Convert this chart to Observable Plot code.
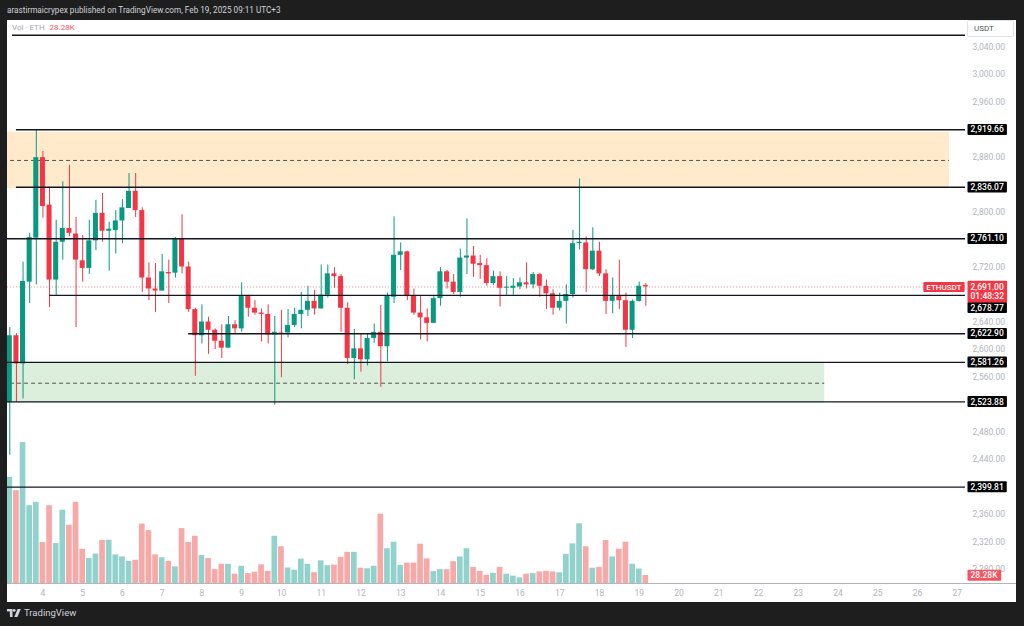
<!DOCTYPE html>
<html><head><meta charset="utf-8">
<script src="https://cdn.jsdelivr.net/npm/d3@7"></script>
<script src="https://cdn.jsdelivr.net/npm/@observablehq/plot@0.6"></script>
<style>
html,body{margin:0;padding:0;background:#1e1e1e;width:1024px;height:626px;overflow:hidden;font-family:Roboto,"Liberation Sans",sans-serif;}
#header{position:absolute;left:7px;top:0;height:20px;line-height:21px;font-size:8.2px;color:#d1d4dc;white-space:nowrap;}
#chart{position:absolute;left:7px;top:20px;width:1009px;height:582px;background:#fff;overflow:hidden;}
#chart svg{position:absolute;left:0;top:0;}
#legend{position:absolute;left:5px;top:3px;font-size:8px;color:#a3a6af;z-index:5;}
#legend .v{color:#f7525f;margin-left:5px;}
#usdt{position:absolute;left:960px;top:0;width:47px;height:17px;border:1px solid #e0e3eb;border-radius:2px;background:#fff;font-size:8px;color:#50535e;line-height:16px;padding-left:6px;box-sizing:border-box;z-index:5;}
#baseline{position:absolute;left:0;top:563px;width:1009px;height:1px;background:#b2b5be;z-index:4;}
#footer{position:absolute;left:7px;top:607px;color:#d1d4dc;font-size:9.5px;display:flex;align-items:center;gap:3px;}
</style></head>
<body>
<div id="header">arastirmaicrypex published on TradingView.com, Feb 19, 2025 09:11 UTC+3</div>
<div id="chart">
  <div id="legend">Vol · ETH<span class="v">28.28K</span></div>
  <div id="usdt">USDT</div>
  <div id="baseline"></div>
</div>
<div id="footer"><svg width="14" height="8" viewBox="0 0 14 8"><path d="M0 0h5.5v8h-2.6v-5.4h-2.9z" fill="#d1d4dc"/><circle cx="7.2" cy="1.4" r="1.4" fill="#d1d4dc"/><path d="M10.6 0h3.2l-3.4 8h-3.1z" fill="#d1d4dc"/></svg><span>TradingView</span></div>
<script>
// ---- data (ETHUSDT, 4h candles, first candle 3 Feb 04:00 UTC) ----
const open  = [2523,2620,2579,2698,2762,2879,2810,2701,2756,2776,2768,2729,2718,2758,2798,2772,2773,2787,2805,2830,2802,2704,2688,2685,2712,2711,2761,2720,2658,2620,2640,2628,2612,2602,2636,2630,2677,2660,2653,2651,2621,2625,2624,2635,2651,2657,2670,2659,2679,2710,2706,2660,2587,2601,2585,2616,2625,2604,2676,2737,2742,2678,2653,2646,2638,2674,2713,2698,2683,2733,2736,2725,2722,2696,2706,2689.2,2689,2691,2697,2694,2709,2692,2681,2660,2670,2680,2754,2755,2716,2743,2710,2670,2677,2671,2628,2670,2693];
const high  = [2632,2623,2727,2769,2920,2888,2836,2788,2844,2868,2792,2766,2788,2817,2827,2785,2802,2818,2856,2856,2806,2726,2725,2738,2730,2763,2796,2727,2660,2665,2647,2630,2636,2648,2642,2697,2679,2671,2659,2665,2648,2657,2658,2660,2683,2692,2686,2723,2723,2719,2709,2668,2629,2623,2622,2637,2664,2682,2793,2755,2743,2688,2677,2659,2677,2719,2715,2709,2746,2790,2750,2737,2732,2714,2713,2706,2703,2704,2726,2712,2711,2701,2687,2682,2694,2773,2848,2764,2777,2756,2716,2704,2730,2682,2672,2698,2696];
const low   = [2446,2523,2528,2667,2694,2791,2661,2677,2730,2764,2632,2698,2709,2744,2756,2714,2739,2754,2805,2792,2683,2671,2654,2685,2667,2704,2710,2654,2561,2608,2593,2600,2587,2602,2622,2625,2647,2650,2611,2608,2519,2559,2617,2632,2630,2648,2650,2659,2675,2689,2625,2578,2556,2567,2576,2609,2545,2582,2667,2715,2671,2650,2614,2611,2638,2663,2688,2680,2676,2709,2705,2702,2692,2693,2662,2679,2679,2687,2688,2688,2676,2658,2650,2656,2637,2675,2745,2683,2715,2706,2651,2652,2658,2603,2616,2669,2663];
const close = [2620,2579,2699,2763,2879,2808,2701,2756,2776,2769,2730,2718,2758,2798,2772,2775,2787,2806,2830,2802,2704,2688,2685,2713,2710,2761,2720,2658,2620,2640,2628,2612,2602,2636,2630,2677,2660,2653,2651,2621,2625,2624,2635,2651,2657,2670,2659,2679,2710,2706,2660,2587,2601,2585,2616,2625,2604,2677,2737,2742,2678,2653,2646,2638,2674,2713,2698,2683,2733,2736,2724,2722,2696,2706,2689,2690.6,2692,2697,2694,2709,2692,2681,2660,2670,2680,2754,2756,2716,2743,2710,2670,2677,2671,2628,2670,2692,2691];
const volumeK = [375,328,498,275,287,145,275,141,259,206,287,121,88,104,152,153,101,94,78,82,210,187,101,91,78,59,194,145,167,99,88,49,68,68,33,61,35,40,66,43,167,130,55,47,86,68,38,80,63,65,92,110,110,54,52,61,245,123,146,64,72,72,139,87,42,49,49,77,94,123,57,43,29,36,57,33,26,20,33,35,41,43,41,38,103,140,211,130,54,57,152,94,121,146,68,51,28.28];

// horizontal levels: price, first candle index the ray starts at (-2 = whole chart), label shown
const levelPrice = [3057, 2919.66, 2836.07, 2761.10, 2678.77, 2622.90, 2581.26, 2523.88, 2399.81];
const levelStart = [0.4, 1, 1, -2, 6, 27, -2, -2, -2];
const levelLabel = [false, true, true, true, true, true, true, true, true];
// zones
const zoneLow  = [2834, 2522];
const zoneHigh = [2916, 2580];
const zoneEnd  = [141.84, 123];
const zoneFill = ["#ffeacc", "#dbefdc"];
// axes (price ticks that the level labels hide are left out, as in the original)
const dayLabels = [4,5,6,7,8,9,10,11,12,13,14,15,16,17,18,19,20,21,22,23,24,25,26,27];
const priceTicks = [3040, 3000, 2960, 2880, 2800, 2720, 2640, 2600, 2560, 2480, 2440, 2360, 2320, 2280];
const lastPrice = 2691.00;
const countdown = "01:48:32";
const symbol = "ETHUSDT";

// ---- build ----
const HR = 4 * 3600e3;
const t0 = Date.UTC(2025, 1, 3, 4);
const tAt = i => new Date(t0 + i * HR);
const candles = open.map((o, i) => ({t: tAt(i), i, o, h: high[i], l: low[i], c: close[i], v: volumeK[i], up: close[i] >= o}));
const levels = levelPrice.map((p, k) => ({p, start: tAt(levelStart[k]), label: levelLabel[k]}));
const zones = zoneLow.map((lo, k) => ({lo, hi: zoneHigh[k], mid: (lo + zoneHigh[k]) / 2, from: tAt(-2), to: tAt(zoneEnd[k]), fill: zoneFill[k]}));
const dayTicks = dayLabels.map(d => new Date(Date.UTC(2025, 1, d)));
const fmt = d3.format(",.2f");
const UP = "#089981", DN = "#f23645";

const W = 1009, HT = 582;
const xDomain = [tAt(-0.347), tAt(144.25)];
const xEnd = xDomain[1];
const yDomain = [2259.64, 3078.55];
const common = {
  width: W, height: HT, marginTop: 0, marginBottom: 19, marginLeft: 0, marginRight: 51,
  style: {background: "transparent", fontFamily: "Roboto, 'Liberation Sans', sans-serif", fontSize: "8.5px", overflow: "visible"}
};
const chart = document.getElementById("chart");

// layer 1: zones + axes
const p1 = Plot.plot({
  ...common,
  x: {type: "utc", domain: xDomain},
  y: {domain: yDomain},
  marks: [
    Plot.rect(zones, {x1: "from", x2: "to", y1: "lo", y2: "hi", fill: "fill", clip: true}),
    Plot.ruleY(zones, {y: "mid", x1: "from", x2: "to", stroke: "#555", strokeWidth: 1, strokeDasharray: "4,3", clip: true}),
    Plot.axisY({anchor: "right", ticks: priceTicks, tickFormat: fmt, tickSize: 0, tickPadding: 7, color: "#b2b5be", fontSize: 8.5}),
    Plot.axisX({ticks: dayTicks, tickFormat: d => d.getUTCDate(), tickSize: 0, tickPadding: 6, color: "#b2b5be", fontSize: 8.5})
  ]
});
chart.appendChild(p1);

// layer 2: volume
const volLast = volumeK[volumeK.length - 1];
const p2 = Plot.plot({
  ...common,
  x: {type: "utc", domain: xDomain, axis: null},
  y: {domain: [0, 1990], axis: null},
  marks: [
    Plot.rect(candles, {x1: d => tAt(d.i - 0.43), x2: d => tAt(d.i + 0.43), y1: 0, y2: "v", fill: d => d.up ? "#92d2cc" : "#f7a9a7"}),
    Plot.text([volLast], {y: d => d, text: d => d.toFixed(2) + "K", frameAnchor: "right", textAnchor: "start", dx: 5, fill: "#fff", fontSize: 8.5, fontWeight: 500})
  ]
});
chart.appendChild(p2);

// layer 3: price
const p3 = Plot.plot({
  ...common,
  x: {type: "utc", domain: xDomain, axis: null},
  y: {domain: yDomain, axis: null},
  marks: [
    Plot.ruleY([lastPrice], {stroke: DN, strokeOpacity: 0.55, strokeDasharray: "1,2", strokeWidth: 1}),
    Plot.ruleX(candles, {x: "t", y1: "l", y2: "h", stroke: d => d.up ? UP : DN, strokeWidth: 1}),
    Plot.rect(candles, {x1: d => tAt(d.i - 0.38), x2: d => tAt(d.i + 0.38), y1: "o", y2: "c", fill: d => d.up ? UP : DN}),
    Plot.ruleY(levels, {y: "p", x1: "start", x2: () => xEnd, stroke: "#131722", strokeWidth: 1.4, clip: true}),
    Plot.text(levels.filter(d => d.label && d.p !== 2678.77), {y: "p", text: d => fmt(d.p), frameAnchor: "right", textAnchor: "start", dx: 5, fill: "#fff", fontSize: 8.5, fontWeight: 500}),
    Plot.text(levels.filter(d => d.p === 2678.77), {y: "p", text: d => fmt(d.p), frameAnchor: "right", textAnchor: "start", dx: 5, dy: 12.5, fill: "#fff", fontSize: 8.5, fontWeight: 500}),
    Plot.text([lastPrice], {y: d => d, text: d => fmt(d) + "\n" + countdown, frameAnchor: "right", textAnchor: "start", lineAnchor: "top", dx: 5, dy: -4.2, lineHeight: 1.15, fill: "#fff", fontSize: 8.5, fontWeight: 500}),
    Plot.text([lastPrice], {y: d => d, text: () => symbol, frameAnchor: "right", textAnchor: "end", dx: -4, fill: "#fff", fontSize: 8, fontWeight: 500})
  ]
});
chart.appendChild(p3);

// label boxes behind texts (found by their content)
function boxes(svg, test, fill, padX, padY) {
  Array.from(svg.querySelectorAll("text")).filter(t => test(t.textContent)).forEach(t => {
    const b = t.getBBox();
    const r = document.createElementNS("http://www.w3.org/2000/svg", "rect");
    r.setAttribute("x", b.x - padX);
    r.setAttribute("y", b.y - padY);
    r.setAttribute("width", b.width + 2 * padX);
    r.setAttribute("height", b.height + 2 * padY);
    r.setAttribute("fill", fill);
    r.setAttribute("rx", 1);
    const tr = t.getAttribute("transform");
    if (tr) r.setAttribute("transform", tr);
    t.parentNode.insertBefore(r, t);
  });
}
const lvlTexts = levels.filter(d => d.label).map(d => fmt(d.p));
boxes(p3, s => lvlTexts.includes(s), "#000", 3, 0.5);
boxes(p3, s => s.includes(countdown), DN, 3, 1);
boxes(p3, s => s === symbol, DN, 3, 0.5);
boxes(p2, s => s === volLast.toFixed(2) + "K", "#f7525f", 3, 0.5);
</script>
</body></html>
